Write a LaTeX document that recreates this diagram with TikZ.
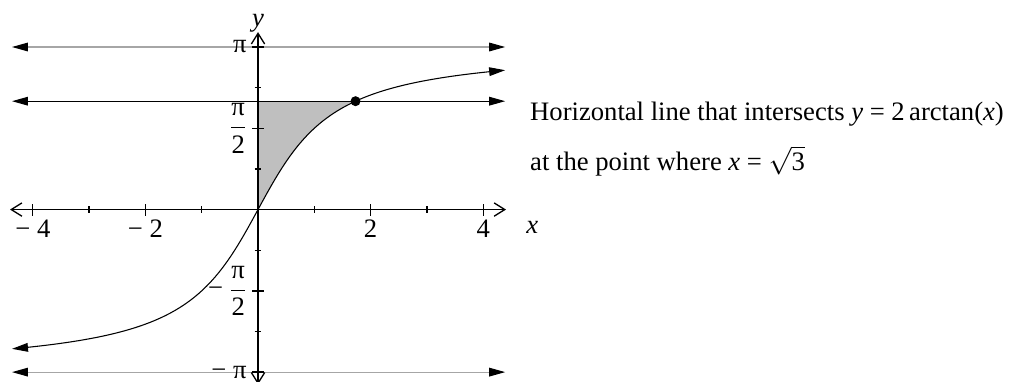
\documentclass[tikz,border=0pt]{standalone}
\usepackage{fontspec}
\setmainfont{Liberation Serif}
\usepackage{tikz}
\usetikzlibrary{arrows.meta, positioning}

\begin{document}
\begin{tikzpicture}[x=1.4855cm, y=1.3653cm, >=Stealth,
        font=\fontsize{20}{24}\selectfont,
        axis/.style={line width=1pt, arrows={Straight Barb[length=8pt,width=10pt]-Straight Barb[length=8pt,width=10pt]}},
        hline/.style={line width=0.8pt, arrows={Triangle[length=12pt,width=6.5pt,black]-Triangle[length=12pt,width=6.5pt,black]}},
        lbl/.style={inner sep=0pt}]
            \useasboundingbox (-4.583,-3.314) rectangle (13.357,4.05);

            % 阴影
            \fill[black!25] (0,{2*pi/3}) -- (0,0)
                -- plot[domain=0:1.7320508, samples=40, smooth] (\x,{2*rad(atan(\x))}) -- cycle;

            % 水平线
            \coordinate (piL) at (-4.37,{pi});
            \coordinate (piR) at (4.39,{pi});
            \coordinate (hL) at (-4.37,{2*pi/3});
            \coordinate (hR) at (4.39,{2*pi/3});
            \coordinate (mpiL) at (-4.37,{-pi});
            \coordinate (mpiR) at (4.39,{-pi});
            \draw[hline, draw=black!35] (piL) -- (piR);
            \draw[hline] (hL) -- (hR);
            \draw[hline, draw=black!35] (mpiL) -- (mpiR);

            % 坐标轴
            \coordinate (xmin) at (-4.405,0);
            \coordinate (xmax) at (4.405,0);
            \coordinate (ymin) at (0,-3.38);
            \coordinate (ymax) at (0,3.43);
            \draw[axis] (xmin) -- (xmax);
            \draw[axis] (ymin) -- (ymax);
            \foreach \i in {-4,-2,2,4}
                \draw[line width=1pt] (\i,0) ++(0,-4.5pt) -- ++(0,9pt);
            \foreach \i in {-3,-1,1,3}
                \draw[line width=1pt] (\i,0) ++(0,-2.5pt) -- ++(0,5pt);
            \foreach \i in {-2,-1,1,2}
                \draw[line width=1pt] (0,{\i*pi/2}) ++(-4.5pt,0) -- ++(9pt,0);
            \foreach \i in {-3,-1,1,3}
                \draw[line width=1pt] (0,{\i*pi/4}) ++(-2.5pt,0) -- ++(5pt,0);

            % 曲线
            \draw[line width=0.8pt, arrows={Triangle[length=12pt,width=6.5pt]-Triangle[length=12pt,width=6.5pt]}]
                plot[domain=-4.37:4.39, samples=120, smooth] (\x,{2*rad(atan(\x))});

            % 交点
            \node[circle, fill, inner sep=0pt, minimum size=7.5pt] (hit) at ({sqrt(3)},{2*pi/3}) {};

            % 刻度标签
            \node[lbl, anchor=south] (ylab) at (ymax) {\itshape y};
            \node[lbl] (xlab) at (4.87,-0.35) {\itshape x};
            \node[lbl, anchor=base] (xm4) at (-4,-0.54) {− 4};
            \node[lbl, anchor=base] (xm2) at (-2,-0.54) {− 2};
            \node[lbl, anchor=base] (xp2) at (2,-0.54) {2};
            \node[lbl, anchor=base] (xp4) at (4,-0.54) {4};
            \node[lbl, anchor=east] (ypi) at (-0.2,{pi}) {π};
            \node[lbl, anchor=east] (yhalf) at (-0.2,{pi/2}) {$\displaystyle\frac{\hbox{π}}{\hbox{2}}$};
            \node[lbl, anchor=east] (ymhalf) at (-0.2,{-pi/2}) {− $\displaystyle\frac{\hbox{π}}{\hbox{2}}$};
            \node[lbl, anchor=east] (ympi) at (-0.2,{-pi}) {− π};

            % 说明
            \node[lbl, anchor=base west] (note1) at (4.83,1.72) {Horizontal line that intersects \textit{y} = 2\,arctan(\textit{x})};
            \node[lbl, anchor=base west] (note2) at (4.83,0.756) {at the point where \textit{x} = $\sqrt{\hbox{3}}$};
        \end{tikzpicture}
\end{document}
